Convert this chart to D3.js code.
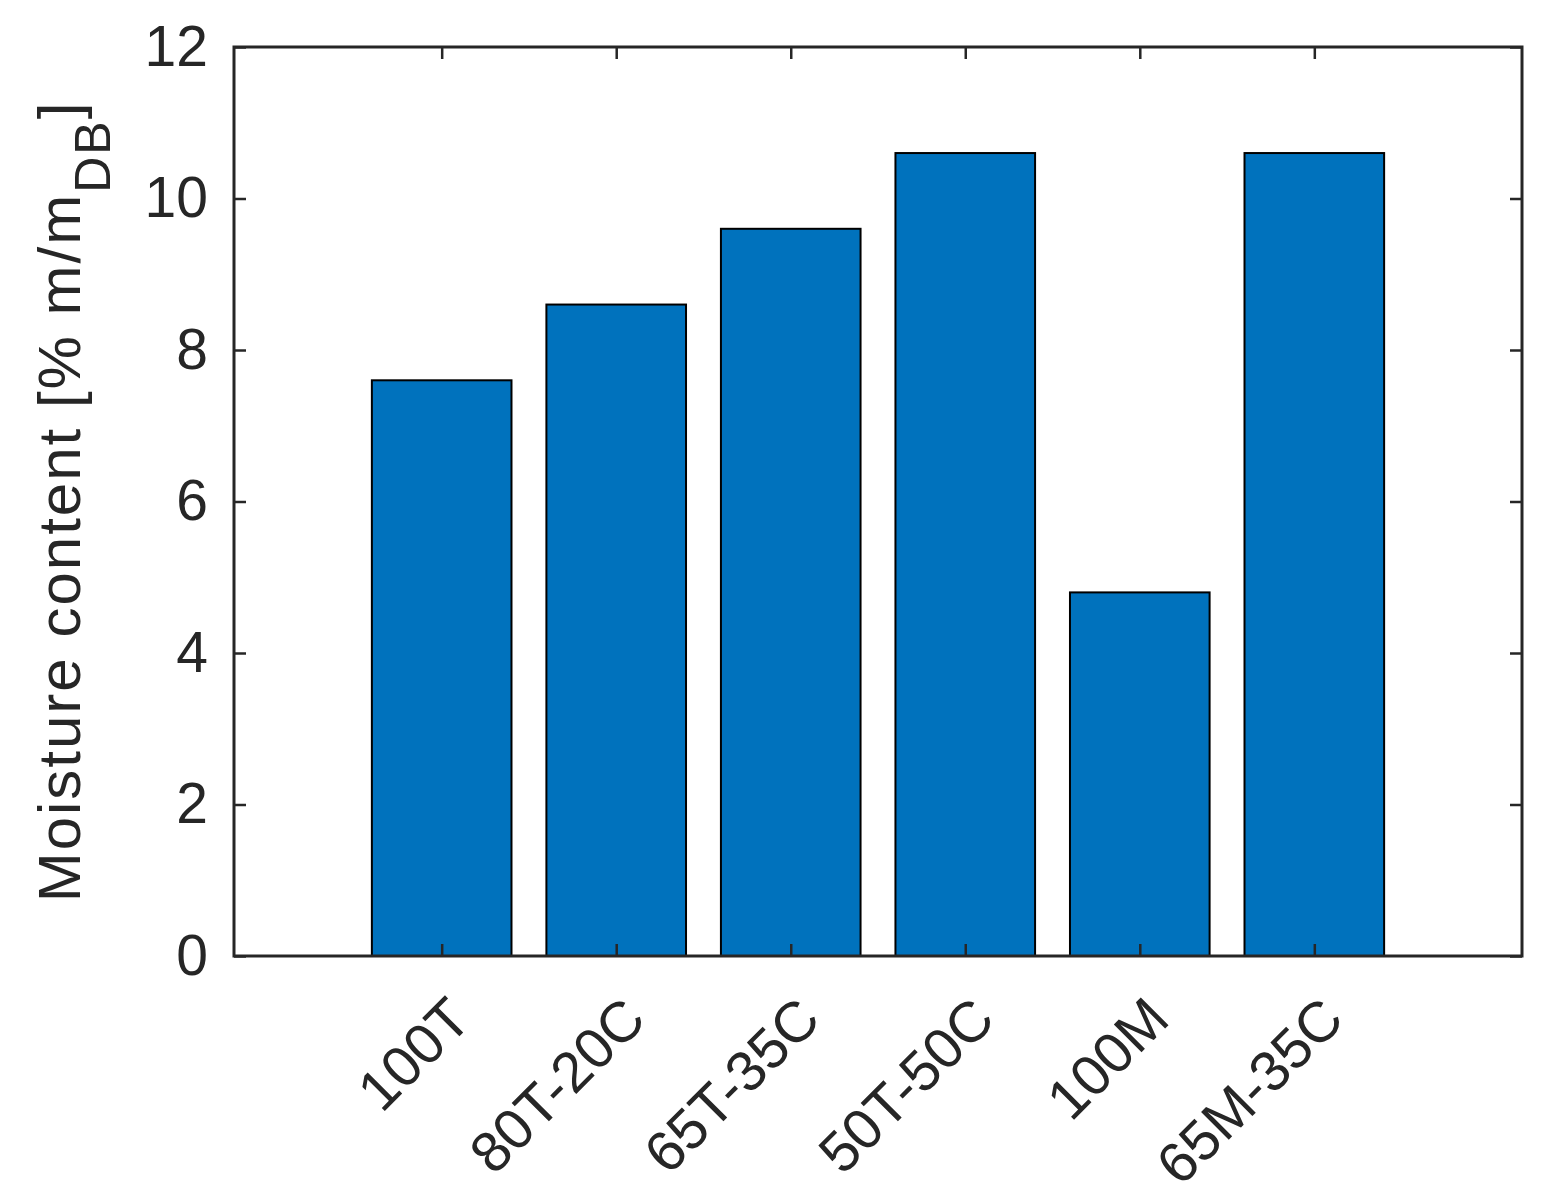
<!DOCTYPE html>
<html>
<head>
<meta charset="utf-8">
<script src="https://cdn.jsdelivr.net/npm/d3@7"></script>
<style>
  body { margin: 0; background: #fff; }
  text { font-family: "Liberation Sans", Arial, sans-serif; fill: #262626; }
</style>
</head>
<body>
<div id="chart-area"></div>
<script>
// Data
const categories = ['100T', '80T-20C', '65T-35C', '50T-50C', '100M', '65M-35C'];
const moisture = [7.6, 8.6, 9.6, 10.6, 4.8, 10.6];
const yTicks = [0, 2, 4, 6, 8, 10, 12];

// Margins
const margin = { left: 234, right: 19, top: 47, bottom: 247 };
const width = 1541 - margin.left - margin.right;
const height = 1203 - margin.top - margin.bottom;

const svg = d3.select('#chart-area')
    .append('svg')
    .attr('width', 1541)
    .attr('height', 1203);

const g = svg.append('g')
    .attr('transform', 'translate(' + margin.left + ', ' + margin.top + ')');

// X Scale (category index)
const x = d3.scaleLinear()
    .domain([-1.19, categories.length - 1 + 1.19])
    .range([0, width]);

// Y Scale
const y = d3.scaleLinear()
    .domain([0, 12])
    .range([height, 0]);

const barW = x(0.8) - x(0);

// Bars
g.selectAll('rect.bar')
    .data(moisture)
    .enter()
    .append('rect')
    .attr('class', 'bar')
    .attr('x', (d, i) => x(i) - barW / 2)
    .attr('y', (d) => y(d))
    .attr('width', barW)
    .attr('height', (d) => y(0) - y(d))
    .attr('fill', '#0072BD')
    .attr('stroke', '#000')
    .attr('stroke-width', 2);

const axisColor = '#262626';
const tickLen = 12;
const fontSize = 57;

// Y axis (left) with inward ticks
const yAxisCall = d3.axisLeft(y)
    .tickValues(yTicks)
    .tickSizeInner(-tickLen)
    .tickSizeOuter(0)
    .tickPadding(26)
    .tickFormat((d) => d);
const yAxis = g.append('g').call(yAxisCall);
yAxis.select('.domain').remove();
yAxis.selectAll('line').attr('stroke', axisColor).attr('stroke-width', 2.5);
yAxis.selectAll('text')
    .attr('font-size', fontSize + 'px')
    .attr('font-family', '"Liberation Sans", Arial, sans-serif')
    .attr('fill', axisColor);

// Right ticks
const yRight = g.append('g')
    .attr('transform', 'translate(' + width + ', 0)')
    .call(d3.axisRight(y).tickValues(yTicks).tickSizeInner(-tickLen).tickSizeOuter(0).tickFormat(''));
yRight.select('.domain').remove();
yRight.selectAll('line').attr('stroke', axisColor).attr('stroke-width', 2.5);

// X axis (bottom) with inward ticks
const xIdx = categories.map((c, i) => i);
const xAxis = g.append('g')
    .attr('transform', 'translate(0, ' + height + ')')
    .call(d3.axisBottom(x).tickValues(xIdx).tickSizeInner(-tickLen).tickSizeOuter(0).tickFormat(''));
xAxis.select('.domain').remove();
xAxis.selectAll('line').attr('stroke', axisColor).attr('stroke-width', 2.5);

// Top ticks
const xTop = g.append('g')
    .call(d3.axisTop(x).tickValues(xIdx).tickSizeInner(-tickLen).tickSizeOuter(0).tickFormat(''));
xTop.select('.domain').remove();
xTop.selectAll('line').attr('stroke', axisColor).attr('stroke-width', 2.5);

// Rotated category labels
g.selectAll('text.xlabel')
    .data(categories)
    .enter()
    .append('text')
    .attr('class', 'xlabel')
    .attr('transform', (d, i) => 'translate(' + (x(i) + 3) + ', ' + (height + 37) + ') rotate(-45)')
    .attr('text-anchor', 'end')
    .attr('dy', '0.72em')
    .attr('font-size', fontSize + 'px')
    .text((d) => d);

// Axes box
g.append('rect')
    .attr('x', 0)
    .attr('y', 0)
    .attr('width', width)
    .attr('height', height)
    .attr('fill', 'none')
    .attr('stroke', axisColor)
    .attr('stroke-width', 3);

// Y label
const yLabel = g.append('text')
    .attr('transform', 'translate(' + (80 - margin.left) + ', ' + (height / 2) + ') rotate(-90)')
    .attr('text-anchor', 'middle')
    .attr('font-size', '60px')
    .attr('letter-spacing', '2px');
yLabel.append('tspan').text('Moisture content [% m/m');
yLabel.append('tspan').attr('dy', 30).attr('font-size', '50px').text('DB');
yLabel.append('tspan').attr('dy', -30).text(']');
</script>
</body>
</html>
